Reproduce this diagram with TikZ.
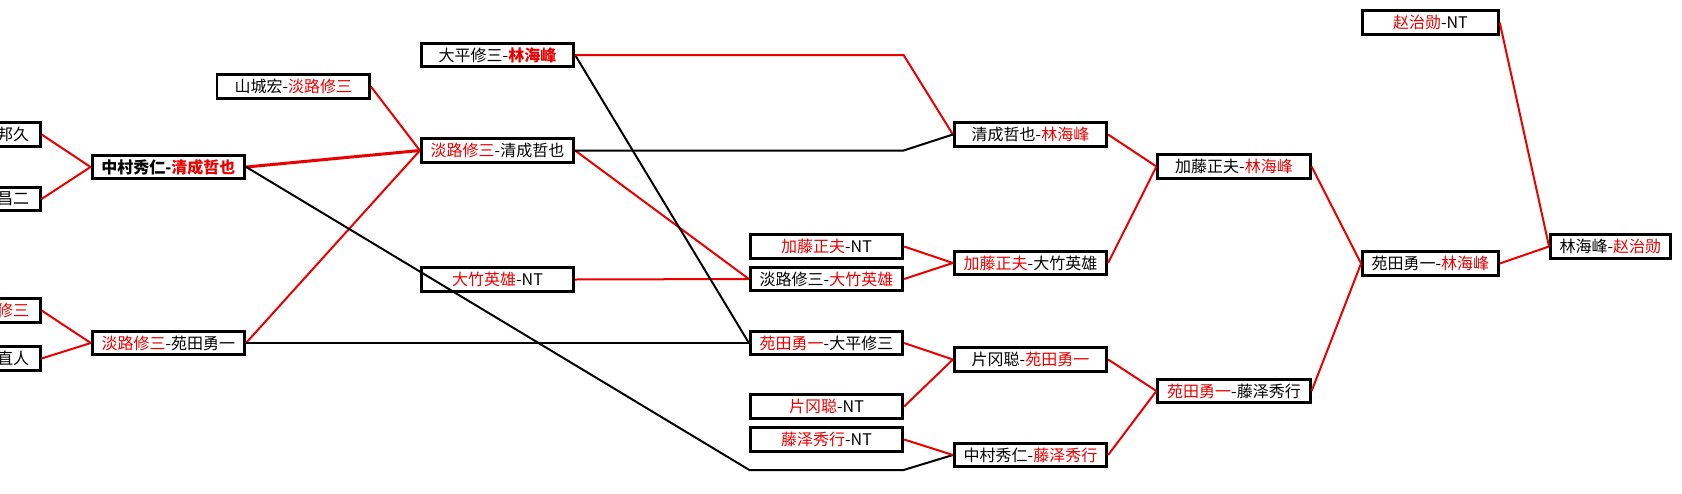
\documentclass[tikz,border=0pt]{standalone}
\usepackage{fontspec}
\setmainfont{Noto Sans CJK SC}
\usetikzlibrary{positioning}

\definecolor{winred}{RGB}{235,0,0}
\newcommand{\win}[1]{\textcolor{winred}{#1}}

\begin{document}
\begin{tikzpicture}[x=1pt,y=-1pt,
  match/.style={draw,line width=2.7pt,minimum width=152.5pt,minimum height=23.5pt,inner sep=0pt,font=\fontsize{16}{18}\selectfont},
  cut/.style={match,text width=130.5pt,align=right,inner xsep=11pt},
  won/.style={winred,line width=2pt},
  lost/.style={black,line width=2pt}]

\useasboundingbox (0,0) rectangle (1682,493);
\clip (0,0) rectangle (1682,493);

% First games, cut off at the left edge
\node[cut] (bj) at (-36,134.5) {邦久};
\node[cut] (ce) at (-36,199) {昌二};
\node[cut] (xs) at (-36,310.5) {\win{修三}};
\node[cut] (zr) at (-36,358.5) {直人};

% Second round
\node[match,line width=3.2pt] (zc) at (168.4,167) {\bfseries 中村秀仁-\win{清成哲也}};
\node[match] (dy) at (168.4,343) {\win{淡路修三}-苑田勇一};
\node[match] (sd) at (293.3,86.5) {山城宏-\win{淡路修三}};

% Third round
\node[match] (dl) at (497.5,55) {大平修三-\win{\bfseries 林海峰}};
\node[match] (dq) at (497.5,150.5) {\win{淡路修三}-清成哲也};
\node[match] (dz) at (497.5,279.5) {\win{大竹英雄}-NT};

% Fourth round
\node[match] (jn) at (826.5,246.5) {\win{加藤正夫}-NT};
\node[match] (dd) at (826.5,279) {淡路修三-\win{大竹英雄}};
\node[match] (yd) at (826.5,343) {\win{苑田勇一}-大平修三};
\node[match] (pn) at (826.5,406.5) {\win{片冈聪}-NT};
\node[match] (tn) at (826.5,439.5) {\win{藤泽秀行}-NT};

% Fifth round
\node[match] (ql) at (1030.5,134.5) {清成哲也-\win{林海峰}};
\node[match] (jd) at (1030.5,263) {\win{加藤正夫}-大竹英雄};
\node[match] (py) at (1030.5,359.5) {片冈聪-\win{苑田勇一}};
\node[match] (zt) at (1030.5,455) {中村秀仁-\win{藤泽秀行}};

% Semi final
\node[match] (jl) at (1234,166.5) {加藤正夫-\win{林海峰}};
\node[match] (yt) at (1234,391) {\win{苑田勇一}-藤泽秀行};

% Final
\node[match,minimum width=136pt] (zn) at (1430.4,22.5) {\win{赵治勋}-NT};
\node[match,minimum width=136pt] (yl) at (1430.4,263.5) {苑田勇一-\win{林海峰}};
\node[match,minimum width=120pt] (lz) at (1610.4,246.5) {林海峰-\win{赵治勋}};

% Bends
\coordinate (zcdown) at (749.4,470);
\coordinate (zcright) at (903.6,470);
\coordinate (dlright) at (903.6,55);
\coordinate (dqright) at (903.6,150.5);

% Lines into the second round
\draw[won] (bj.east) -- (zc.west);
\draw[won] (ce.east) -- (zc.west);
\draw[won] (xs.east) -- (dy.west);
\draw[won] (zr.east) -- (dy.west);

% Lines into the third round
\draw[won,line width=3pt] (zc.east) -- (dq.west);
\draw[won] (sd.east) -- (dq.west);
\draw[won] (dy.east) -- (dq.west);
\draw[lost] (zc.east) -- (zcdown) -- (zcright) -- (zt.west);

% Lines into the fourth round
\draw[won] (dq.east) -- (dd.west);
\draw[won] (dz.east) -- (dd.west);
\draw[lost] (dl.east) -- (yd.west);
\draw[lost,line width=1.5pt] (dy.east) -- (yd.west);

% Lines into the fifth round
\draw[won] (dl.east) -- (dlright) -- (ql.west);
\draw[lost] (dq.east) -- (dqright) -- (ql.west);
\draw[won] (jn.east) -- (jd.west);
\draw[won] (dd.east) -- (jd.west);
\draw[won] (yd.east) -- (py.west);
\draw[won] (pn.east) -- (py.west);
\draw[won] (tn.east) -- (zt.west);

% Semi final and final
\draw[won] (ql.east) -- (jl.west);
\draw[won] (jd.east) -- (jl.west);
\draw[won] (py.east) -- (yt.west);
\draw[won] (zt.east) -- (yt.west);
\draw[won] (jl.east) -- (yl.west);
\draw[won] (yt.east) -- (yl.west);
\draw[won] (yl.east) -- (lz.west);
\draw[won] (zn.east) -- (lz.west);

\end{tikzpicture}
\end{document}
